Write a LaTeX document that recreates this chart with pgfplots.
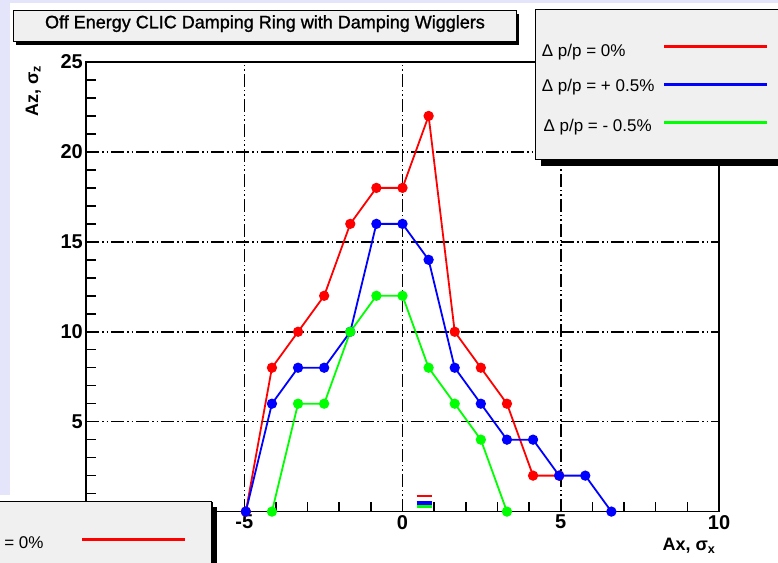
\documentclass[border=0pt]{standalone}
\usepackage{pgfplots}
\pgfplotsset{compat=1.18}
\usepackage{fontspec}
\setmainfont{Liberation Sans}
\newfontfamily\titlefont[FakeBold=1.2]{Liberation Sans}

\definecolor{padlav}{RGB}{228,228,250}
\definecolor{boxgrey}{RGB}{240,240,240}
\definecolor{rred}{RGB}{255,0,0}
\definecolor{rblue}{RGB}{0,0,255}
\definecolor{rgreen}{RGB}{0,255,0}

% Dynamic aperture scans (Ax, Az in units of sigma) for three momentum offsets
\pgfplotstableread{
x       y
-4.95   0
-4.125  8
-3.3    10
-2.475  12
-1.65   16
-0.825  18
0       18
0.825   22
1.65    10
2.475   8
3.3     6
4.125   2
4.95    2
}\dpzero
\pgfplotstableread{
x       y
-4.95   0
-4.125  6
-3.3    8
-2.475  8
-1.65   10
-0.825  16
0       16
0.825   14
1.65    8
2.475   6
3.3     4
4.125   4
4.95    2
5.775   2
6.6     0
}\dpplus
\pgfplotstableread{
x       y
-4.125  0
-3.3    6
-2.475  6
-1.65   10
-0.825  12
0       12
0.825   8
1.65    6
2.475   4
3.3     0
}\dpminus

\begin{document}
\begin{tikzpicture}[x=1pt,y=1pt]
\useasboundingbox (0,0) rectangle (778,562);
\clip (0,0) rectangle (778,562);
% canvas and pad
\fill[padlav] (0,0) rectangle (778,562);
\fill[white] (10,0) rectangle (778,559);
\fill[white] (0,0) rectangle (10,67);

\begin{axis}[
  at={(86pt,50.4pt)}, anchor=south west, scale only axis,
  width=633pt, height=449.6pt,
  xmin=-10, xmax=10, ymin=0, ymax=25,
  clip=false,
  axis line style={line width=1.5pt, black},
  xtick={-5,0,5}, xticklabels={-5,0,5},
  ytick={5,10,15,20}, yticklabels={5,10,15,20},
  extra x ticks={10}, extra x tick labels={10},
  extra y ticks={25}, extra y tick labels={25},
  extra tick style={grid=none},
  minor xtick={-9,-8,-7,-6,-4,-3,-2,-1,1,2,3,4,6,7,8,9},
  minor ytick={1,2,3,4,6,7,8,9,11,12,13,14,16,17,18,19,21,22,23,24},
  tick pos=left,
  tick align=inside,
  major tick length=12pt,
  minor tick length=10pt,
  every tick/.style={black, line width=1.5pt},
  grid=major,
  major grid style={black, line width=1.5pt,
    dash pattern=on 13pt off 3pt on 1.5pt off 3pt on 1.5pt off 3pt},
  /pgf/number format/assume math mode=true,
  ticklabel style={font=\bfseries\fontsize{20}{20}\selectfont},
  yticklabel style={inner sep=3pt},
  xlabel={Ax, σ\textsubscript{x}},
  ylabel={Az, σ\textsubscript{z}},
  every axis x label/.style={at={(rel axis cs:1,0)}, anchor=base east,
    yshift=-39pt, font=\bfseries\fontsize{18}{18}\selectfont},
  every axis y label/.style={at={([xshift=-48pt]rel axis cs:0,1)}, rotate=90,
    anchor=base east, font=\bfseries\fontsize{18}{18}\selectfont},
]
\addplot[rred, line width=1.8pt, mark=*, mark size=4.2pt,
  mark options={solid, fill=rred}] table {\dpzero};
\addplot[rblue, line width=1.8pt, mark=*, mark size=4.2pt,
  mark options={solid, fill=rblue}] table {\dpplus};
\addplot[rgreen, line width=1.8pt, mark=*, mark size=4.2pt,
  mark options={solid, fill=rgreen}] table {\dpminus};
% small stacked colour key near the origin
\addplot[rred, line width=2.5pt, forget plot] coordinates {(0.45,0.87) (0.94,0.87)};
\addplot[rblue, line width=4pt, forget plot] coordinates {(0.45,0.48) (0.94,0.48)};
\addplot[rgreen, line width=2.5pt, forget plot] coordinates {(0.45,0.28) (0.94,0.28)};
\end{axis}

% title box with drop shadow
\fill[black] (16.3,517.3) rectangle (519,548);
\filldraw[fill=boxgrey, draw=black, line width=1pt] (13.3,520.3) rectangle (516,551);
\node[anchor=base, inner sep=0pt, font=\titlefont\fontsize{18}{18}\selectfont]
  at (265,533.7) {Off Energy CLIC Damping Ring with Damping Wigglers};

% legend, upper right
\fill[black] (541,396) rectangle (796,546.7);
\filldraw[fill=boxgrey, draw=black, line width=1pt] (535,402) rectangle (790,552.7);
\begin{scope}[every node/.style={anchor=base west, inner sep=0pt,
    font=\fontsize{17}{17}\selectfont}]
  \node at (541.7,505.5) {Δ p/p = 0\%};
  \node at (541.7,470.3) {Δ p/p = + 0.5\%};
  \node at (543.3,430.3) {Δ p/p = - 0.5\%};
\end{scope}
\draw[rred, line width=3pt] (664,515) -- (767,515);
\draw[rblue, line width=3pt] (664,477) -- (767,477);
\draw[rgreen, line width=3pt] (664,439) -- (767,439);

% legend, lower left
\fill[black] (-41,-16) rectangle (217,55);
\filldraw[fill=boxgrey, draw=black, line width=1pt] (-47,-10) rectangle (211,61);
\node[anchor=base west, inner sep=0pt, font=\fontsize{17}{17}\selectfont]
  at (-40.3,13.8) {Δ p/p = 0\%};
\draw[rred, line width=3pt] (82,23) -- (185,23);
\end{tikzpicture}
\end{document}
